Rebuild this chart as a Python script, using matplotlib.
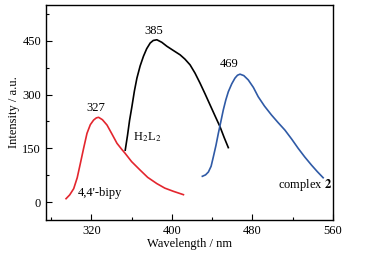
import matplotlib
matplotlib.use("Agg")
import matplotlib.pyplot as plt
from matplotlib.ticker import MultipleLocator

# emission spectra (wavelength nm, intensity a.u.)
bipy_wl = [294.9, 298.5, 302.5, 306.0, 309.1, 312.5, 315.7, 319.0, 322.3, 325.0, 327.2,
           331.0, 335.6, 340.5, 345.5, 350.0, 353.7, 360.0, 368.6, 376.0, 385.1, 393.0, 401.6, 411.5]
bipy_I = [9.5, 20.0, 37.5, 68.0, 107.7, 152.0, 191.8, 216.0, 229.0, 235.0, 236.6,
          230.0, 215.0, 190.0, 164.0, 148.0, 135.7, 113.0, 89.0, 69.0, 51.6, 39.0, 30.0, 20.7]

h2l2_wl = [353.7, 356.0, 358.0, 360.3, 362.8, 365.3, 368.5, 371.8, 375.0, 378.5, 381.5, 385.1,
           390.0, 395.0, 401.0, 408.2, 413.0, 418.1, 423.0, 428.0, 433.0, 438.0, 443.0, 447.9, 452.0, 456.1]
h2l2_I = [145.0, 187.0, 228.0, 266.0, 310.0, 346.0, 380.0, 407.0, 428.0, 444.0, 451.0, 453.0,
          446.0, 435.0, 424.0, 411.0, 399.0, 383.0, 360.0, 332.0, 302.0, 271.0, 240.0, 210.0, 180.0, 152.0]

cplx_wl = [430.3, 433.5, 436.3, 439.0, 441.2, 443.8, 446.2, 448.7, 451.1, 453.6, 456.1, 459.5,
           462.7, 465.2, 467.7, 471.5, 475.9, 481.0, 485.8, 492.0, 499.0, 505.5, 512.3, 519.0,
           525.5, 532.0, 538.8, 544.5, 550.3]
cplx_I = [72.0, 76.0, 84.0, 100.0, 126.0, 158.0, 192.0, 225.0, 257.0, 285.0, 308.0, 330.0,
          346.0, 354.0, 357.0, 353.0, 341.0, 320.0, 294.0, 268.0, 243.0, 222.0, 201.0, 176.0,
          150.0, 126.0, 103.0, 85.0, 68.0]

xticks = [320, 400, 480, 560]
yticks = [0, 150, 300, 450]

plt.rcParams['font.family'] = ['Liberation Serif', 'DejaVu Serif']
plt.rcParams['font.size'] = 9
plt.rcParams['mathtext.fontset'] = 'stix'

fig = plt.figure(figsize=(3.69, 2.56), dpi=100)
ax = fig.add_axes([0.1247, 0.1406, 0.7775, 0.8398])

ax.plot(bipy_wl, bipy_I, color='#e3262e', lw=1.2)
ax.plot(h2l2_wl, h2l2_I, color='black', lw=1.2)
ax.plot(cplx_wl, cplx_I, color='#2f5aa6', lw=1.2)

ax.text(324.5, 262, '327', ha='center', va='center')
ax.text(382.5, 477, '385', ha='center', va='center')
ax.text(456.5, 385, '469', ha='center', va='center')
ax.text(361.5, 180, r'H$_2$L$_2$', ha='left', va='center')
ax.text(306.5, 25, "4,4'-bipy", ha='left', va='center')
ax.text(505.0, 47, r'complex $\mathbf{2}$', ha='left', va='center')

ax.set_xlim(275, 560)
ax.set_ylim(-50, 550)
ax.set_xticks(xticks)
ax.set_yticks(yticks)
ax.xaxis.set_minor_locator(MultipleLocator(40))
ax.yaxis.set_minor_locator(MultipleLocator(75))
ax.tick_params(which='major', direction='in', length=4, width=0.8)
ax.tick_params(which='minor', direction='in', length=2, width=0.8)
for s in ax.spines.values():
    s.set_linewidth(1.0)

ax.set_xlabel('Wavelength / nm', labelpad=1)
ax.set_ylabel('Intensity / a.u.', labelpad=2)

fig.savefig('out.png', dpi=100)
